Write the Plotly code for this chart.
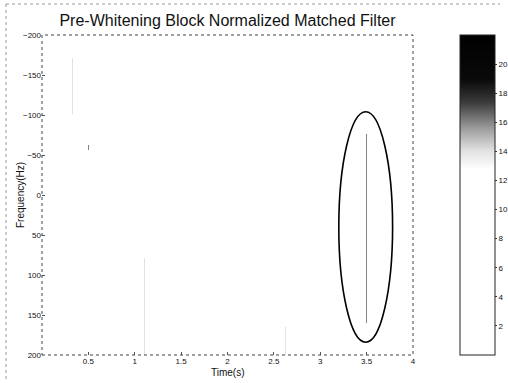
import numpy as np
import plotly.graph_objects as go

# ---- data ----
time_axis = [round(i * 0.01, 2) for i in range(401)]          # seconds
freq_axis = list(range(-200, 201, 2))                           # Hz
# detected ridge segments (time, freq start, freq end, level)
seg_time = [0.33, 0.50, 1.10, 2.62, 3.50]
seg_fstart = [-170, -62, 80, 165, -76]
seg_fend = [-102, -58, 200, 200, 158]
seg_level = [14.0, 16.0, 14.0, 14.0, 16.0]
x_ticks = [0.5, 1, 1.5, 2, 2.5, 3, 3.5, 4]
y_ticks = [-200, -150, -100, -50, 0, 50, 100, 150, 200]
cb_ticks = [2, 4, 6, 8, 10, 12, 14, 16, 18, 20]

# build the matrix from the segments
t_arr = np.array(time_axis)
f_arr = np.array(freq_axis)
z = np.zeros((len(freq_axis), len(time_axis)))
for t, f0, f1, lv in zip(seg_time, seg_fstart, seg_fend, seg_level):
    ci = int(np.argmin(np.abs(t_arr - t)))
    rows = (f_arr >= f0) & (f_arr <= f1)
    z[rows, ci] = lv

colorscale = [
    [0.0, "#ffffff"], [0.58, "#ffffff"], [0.64, "#e0e0e0"],
    [0.71, "#9a9a9a"], [0.79, "#3a3a3a"], [0.86, "#0a0a0a"], [1.0, "#000000"],
]

FONT = "Liberation Sans, Arial, sans-serif"

fig = go.Figure(go.Heatmap(
    x=time_axis, y=freq_axis, z=z, zmin=0, zmax=22,
    colorscale=colorscale,
    colorbar=dict(
        x=(460 - 42) / 371, xanchor="left", xpad=0, ypad=0,
        y=0.5, yanchor="middle", len=1, lenmode="fraction",
        thickness=35, thicknessmode="pixels",
        outlinecolor="#222", outlinewidth=1,
        tickvals=cb_ticks, ticks="outside", ticklen=2, tickcolor="#333",
        tickfont=dict(family=FONT, size=8, color="#111"),
    ),
    hoverinfo="skip",
))

fig.update_xaxes(
    range=[0, 4], tickvals=x_ticks, ticktext=[str(v) for v in x_ticks],
    showgrid=False, zeroline=False, ticks="inside", ticklen=3, tickcolor="#555",
    tickfont=dict(family=FONT, size=8, color="#111"),
)
fig.update_yaxes(
    range=[200, -200], tickvals=y_ticks,
    showgrid=False, zeroline=False, ticks="inside", ticklen=3, tickcolor="#555",
    tickfont=dict(family=FONT, size=8, color="#111"),
)

shapes = [
    # plot box (dotted, scanned look)
    dict(type="rect", xref="paper", yref="paper", x0=0, y0=0, x1=1, y1=1,
         line=dict(color="#444", width=1, dash="dot")),
    # highlight ellipse around the target ridge
    dict(type="circle", xref="x", yref="y", x0=3.20, x1=3.78, y0=-104, y1=184,
         line=dict(color="#000", width=1.6)),
    # scan border
    dict(type="line", xref="paper", yref="paper", x0=(6 - 42) / 371, x1=(500 - 42) / 371,
         y0=(383 - 28 - 4) / 320, y1=(383 - 28 - 4) / 320,
         line=dict(color="#999", width=1, dash="dot")),
    dict(type="line", xref="paper", yref="paper", x0=(6 - 42) / 371, x1=(6 - 42) / 371,
         y0=(383 - 28 - 4) / 320, y1=(383 - 28 - 380) / 320,
         line=dict(color="#999", width=1, dash="dot")),
]

annotations = [
    dict(text="Time(s)", xref="paper", yref="paper", x=0.5, y=(383 - 28 - 372) / 320,
         showarrow=False, xanchor="center", yanchor="middle",
         font=dict(family=FONT, size=10, color="#111")),
    dict(text="Frequency(Hz)", xref="paper", yref="paper", x=(20 - 42) / 371, y=0.5,
         showarrow=False, textangle=-90, xanchor="center", yanchor="middle",
         font=dict(family=FONT, size=10, color="#111")),
]

fig.update_layout(
    width=508, height=383,
    margin=dict(l=42, r=95, t=35, b=28, autoexpand=False),
    paper_bgcolor="white", plot_bgcolor="white",
    title=dict(text="Pre-Whitening Block Normalized Matched Filter",
               x=0.5, xref="paper", y=1 - 20 / 383, yref="container",
               xanchor="center", yanchor="middle",
               font=dict(family=FONT, size=16, color="#111")),
    shapes=shapes, annotations=annotations,
)

fig.write_html("out.html", config={"displayModeBar": False},
               post_script="document.body.style.margin='0';document.body.style.overflow='hidden';")
